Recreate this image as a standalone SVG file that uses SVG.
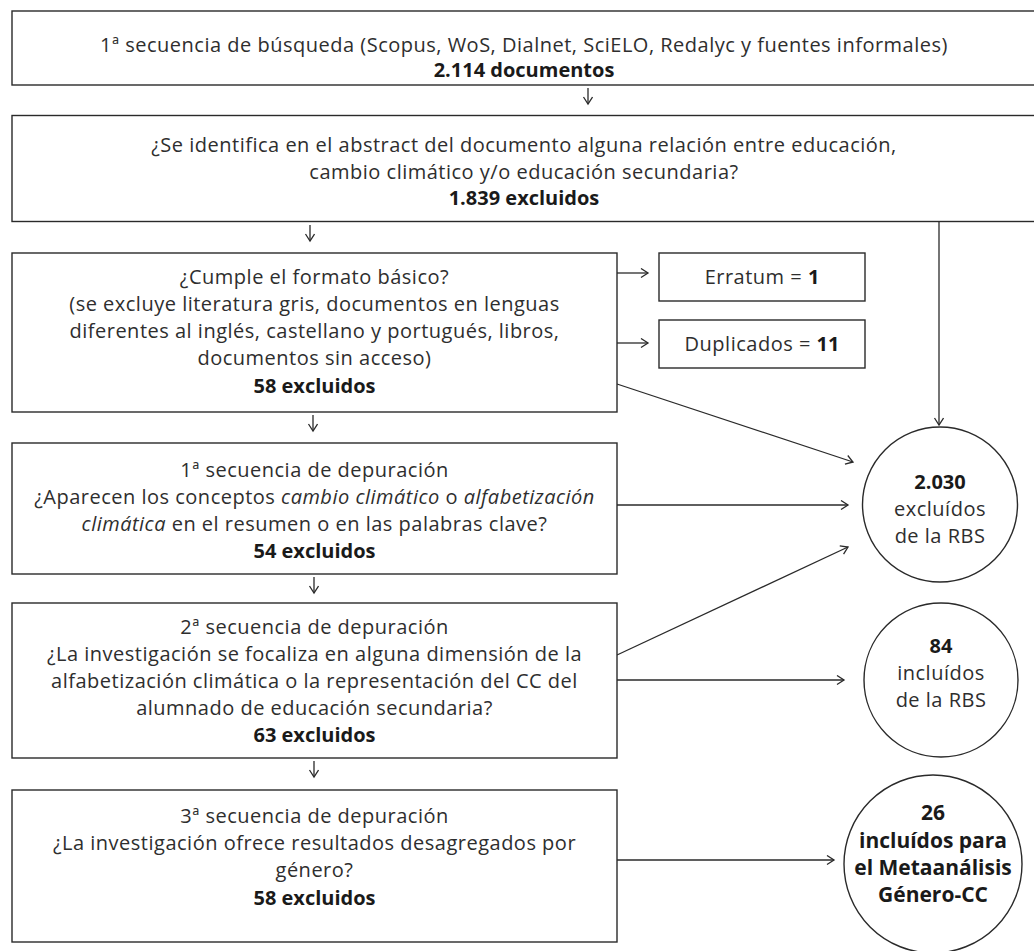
<svg xmlns="http://www.w3.org/2000/svg" width="1034" height="951" viewBox="0 0 1034 951">
<style>
.box{fill:#fff;stroke:#2a2a2a;stroke-width:1.4}
.t{font-family:"Open Sans","Noto Sans","Liberation Sans",sans-serif;font-size:20px;letter-spacing:0.5px;fill:#2e2e2e;text-anchor:middle}
.b{font-weight:bold;fill:#1a1a1a;letter-spacing:0}
.c{font-size:20px}
.c3{font-size:21px;font-weight:bold;fill:#1a1a1a;letter-spacing:0}
.ln{fill:none;stroke:#2a2a2a;stroke-width:1.3;marker-end:url(#ah)}
</style>
<defs>
<marker id="ah" markerUnits="userSpaceOnUse" markerWidth="12" markerHeight="12" refX="9" refY="5" orient="auto">
<path d="M2,0.5 L9,5 L2,9.5" fill="none" stroke="#2a2a2a" stroke-width="1.3"/>
</marker>
</defs>
<rect width="1034" height="951" fill="#fff"/>
<g id="connectors">
<line class="ln" x1="588" y1="88" x2="588" y2="104"/>
<line class="ln" x1="310" y1="225" x2="310" y2="241"/>
<line class="ln" x1="939" y1="222" x2="939" y2="425"/>
<line class="ln" x1="617" y1="273" x2="648" y2="273"/>
<line class="ln" x1="617" y1="343" x2="648" y2="343"/>
<line class="ln" x1="617" y1="384" x2="853" y2="462"/>
<line class="ln" x1="313" y1="415" x2="313" y2="431"/>
<line class="ln" x1="617" y1="505" x2="848" y2="505"/>
<line class="ln" x1="314" y1="577" x2="314" y2="593"/>
<line class="ln" x1="617" y1="655" x2="848" y2="547"/>
<line class="ln" x1="617" y1="680" x2="844" y2="680"/>
<line class="ln" x1="314" y1="761" x2="314" y2="777"/>
<line class="ln" x1="617" y1="860" x2="834" y2="860"/>
</g>
<g id="n1">
<rect class="box" x="12" y="11" width="1040" height="74"/>
<text class="t" x="524" y="52">1ª secuencia de búsqueda (Scopus, WoS, Dialnet, SciELO, Redalyc y fuentes informales)</text>
<text class="t b" x="524" y="77">2.114 documentos</text>
</g>
<g id="n2">
<rect class="box" x="12" y="115.5" width="1040" height="106"/>
<text class="t" x="524" y="152">¿Se identifica en el abstract del documento alguna relación entre educación,</text>
<text class="t" x="524" y="179">cambio climático y/o educación secundaria?</text>
<text class="t b" x="524" y="205">1.839 excluidos</text>
</g>
<g id="n3">
<rect class="box" x="12" y="253" width="605" height="159"/>
<text class="t" x="314.5" y="284">¿Cumple el formato básico?</text>
<text class="t" x="314.5" y="311">(se excluye literatura gris, documentos en lenguas</text>
<text class="t" x="314.5" y="338">diferentes al inglés, castellano y portugués, libros,</text>
<text class="t" x="314.5" y="365">documentos sin acceso)</text>
<text class="t b" x="314.5" y="393">58 excluidos</text>
</g>
<g id="n_erratum">
<rect class="box" x="659" y="253" width="206" height="48"/>
<text class="t" x="762" y="284">Erratum = <tspan class="b">1</tspan></text>
</g>
<g id="n_duplicados">
<rect class="box" x="659" y="320" width="206" height="48"/>
<text class="t" x="762" y="351">Duplicados = <tspan class="b">11</tspan></text>
</g>
<g id="n4">
<rect class="box" x="12" y="443" width="605" height="131"/>
<text class="t" x="314.5" y="477">1ª secuencia de depuración</text>
<text class="t" x="314.5" y="504">¿Aparecen los conceptos <tspan font-style="italic">cambio climático</tspan> o <tspan font-style="italic">alfabetización</tspan></text>
<text class="t" x="314.5" y="531"><tspan font-style="italic">climática</tspan> en el resumen o en las palabras clave?</text>
<text class="t b" x="314.5" y="558">54 excluidos</text>
</g>
<g id="n5">
<rect class="box" x="12" y="603" width="605" height="155"/>
<text class="t" x="314.5" y="634">2ª secuencia de depuración</text>
<text class="t" x="314.5" y="661">¿La investigación se focaliza en alguna dimensión de la</text>
<text class="t" x="314.5" y="688">alfabetización climática o la representación del CC del</text>
<text class="t" x="314.5" y="715">alumnado de educación secundaria?</text>
<text class="t b" x="314.5" y="742">63 excluidos</text>
</g>
<g id="n6">
<rect class="box" x="12" y="790" width="605" height="152"/>
<text class="t" x="314.5" y="823">3ª secuencia de depuración</text>
<text class="t" x="314.5" y="850">¿La investigación ofrece resultados desagregados por</text>
<text class="t" x="314.5" y="877">género?</text>
<text class="t b" x="314.5" y="905">58 excluidos</text>
</g>
<g id="c1">
<circle class="box" cx="940" cy="504.5" r="77.5"/>
<text class="t c b" x="940" y="489">2.030</text>
<text class="t c" x="940" y="516">excluídos</text>
<text class="t c" x="940" y="543">de la RBS</text>
</g>
<g id="c2">
<circle class="box" cx="941" cy="680" r="77"/>
<text class="t c b" x="941" y="653">84</text>
<text class="t c" x="941" y="680">incluídos</text>
<text class="t c" x="941" y="707">de la RBS</text>
</g>
<g id="c3">
<circle class="box" cx="933" cy="864" r="89"/>
<text class="t c3" x="933" y="820">26</text>
<text class="t c3" x="933" y="848">incluídos para</text>
<text class="t c3" x="933" y="875">el Metaanálisis</text>
<text class="t c3" x="933" y="902">Género-CC</text>
</g>
</svg>
